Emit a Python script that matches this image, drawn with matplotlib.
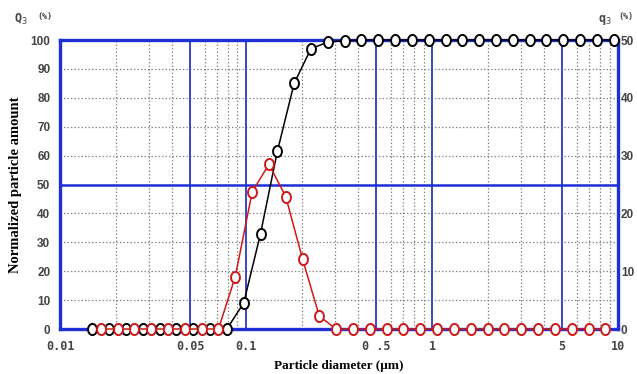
import numpy as np
import matplotlib
matplotlib.use('Agg')
import matplotlib.pyplot as plt
from matplotlib.path import Path
from matplotlib.ticker import FixedLocator, NullFormatter

# upper bin edges (cumulative Q3) in um
edges = [0.01492, 0.01837, 0.02262, 0.02786, 0.03430, 0.04224, 0.05202, 0.06406,
         0.07888, 0.09718, 0.1197, 0.1474, 0.1815, 0.2235, 0.2753, 0.3390,
         0.4175, 0.5141, 0.6330, 0.7796, 0.9600, 1.182, 1.456, 1.793,
         2.208, 2.719, 3.349, 4.124, 5.079, 6.254, 7.702, 9.485]
Q3 = [0, 0, 0, 0, 0, 0, 0, 0, 0, 9, 33, 61.5, 85, 97, 99.3, 99.8,
      100, 100, 100, 100, 100, 100, 100, 100, 100, 100, 100, 100, 100, 100, 100, 100]

# bin centres (density q3) in um
centres = [0.01656, 0.02039, 0.02511, 0.03091, 0.03807, 0.04688, 0.05773, 0.07109,
           0.08755, 0.1079, 0.1328, 0.1636, 0.2014, 0.2480, 0.3055, 0.3762,
           0.4633, 0.5705, 0.7025, 0.8652, 1.065, 1.312, 1.616, 1.990,
           2.450, 3.018, 3.717, 4.577, 5.636, 6.941, 8.547]
q3 = [0, 0, 0, 0, 0, 0, 0, 0, 9.05, 23.7, 28.5, 22.9, 12.1, 2.2, 0, 0,
      0, 0, 0, 0, 0, 0, 0, 0, 0, 0, 0, 0, 0, 0, 0]

x_ticks = [0.01, 0.05, 0.1, 0.5, 1, 5, 10]
x_ticklabels = ['0.01', '0.05', '0.1', '0 .5', '1', '5', '10']
solid_x = [0.05, 0.1, 0.5, 1, 5]
dotted_x = [0.02, 0.03, 0.04, 0.06, 0.07, 0.08, 0.09,
            0.2, 0.3, 0.4, 0.6, 0.7, 0.8, 0.9,
            2, 3, 4, 6, 7, 8, 9]

blue = '#1f2fd6'
grid_blue = '#3a46c8'
tick_col = '#444444'

# tall ellipse marker
t = np.linspace(0, 2 * np.pi, 40)
oval = Path(np.column_stack([0.8 * np.cos(t), np.sin(t)]), closed=True)

fig = plt.figure(figsize=(6.37, 3.74), dpi=100)
ax = fig.add_axes([0.0942, 0.1203, 0.8760, 0.7727])
ax.set_xscale('log')
ax.set_xlim(0.01, 10)
ax.set_ylim(0, 100)

for v in dotted_x:
    ax.axvline(v, color='#808080', lw=0.9, ls=(0, (1.1, 1.7)), zorder=1)
for v in range(10, 100, 10):
    if v != 50:
        ax.axhline(v, color='#808080', lw=0.9, ls=(0, (1.1, 1.7)), zorder=1)
for v in solid_x:
    ax.axvline(v, color=grid_blue, lw=1.4, zorder=2)
ax.axhline(50, color=blue, lw=1.8, zorder=2)

for s in ax.spines.values():
    s.set_color(blue)
    s.set_linewidth(2.4)

ax.plot(edges, Q3, color='black', lw=1.1, marker=oval, ms=8,
        mfc='white', mec='black', mew=1.4, zorder=5, clip_on=False)

ax.xaxis.set_major_locator(FixedLocator(x_ticks))
ax.xaxis.set_minor_formatter(NullFormatter())
ax.set_xticklabels(x_ticklabels, family='DejaVu Sans Mono', fontsize=8.5,
                   fontweight='bold', color=tick_col)
ax.set_yticks(range(0, 101, 10))
ax.set_yticklabels([str(v) for v in range(0, 101, 10)], family='Liberation Sans',
                   fontsize=8.5, fontweight='bold', color=tick_col)
ax.tick_params(axis='both', which='both', length=0)
ax.tick_params(axis='x', pad=8)
ax.tick_params(axis='y', pad=7)

ax2 = ax.twinx()
ax2.set_ylim(0, 50)
ax2.set_yticks(range(0, 51, 10))
ax2.set_yticklabels([str(v) for v in range(0, 51, 10)], family='Liberation Sans',
                    fontsize=8.5, fontweight='bold', color=tick_col)
ax2.tick_params(axis='y', length=0, pad=2)
for s in ax2.spines.values():
    s.set_visible(False)
ax2.plot(centres, q3, color='#d01818', lw=1.1, marker=oval, ms=8,
         mfc='white', mec='#d01818', mew=1.4, zorder=5, clip_on=False)

ax.set_ylabel('Normalized particle amount', family='Liberation Serif',
              fontweight='bold', fontsize=10.5, labelpad=6)
ax.set_xlabel('Particle diameter (\u03bcm)', family='Liberation Serif',
              fontweight='bold', fontsize=9.5, labelpad=5)

fig.text(0.022, 0.94, 'Q$_3$', family='DejaVu Sans Mono', fontsize=8.5,
         color=tick_col, fontweight='bold')
fig.text(0.058, 0.95, '(%)', family='DejaVu Sans Mono', fontsize=6,
         color=tick_col, fontweight='bold')
fig.text(0.938, 0.94, 'q$_3$', family='DejaVu Sans Mono', fontsize=8.5,
         color=tick_col, fontweight='bold')
fig.text(0.970, 0.95, '(%)', family='DejaVu Sans Mono', fontsize=6,
         color=tick_col, fontweight='bold')

fig.savefig('out.png', dpi=100)
